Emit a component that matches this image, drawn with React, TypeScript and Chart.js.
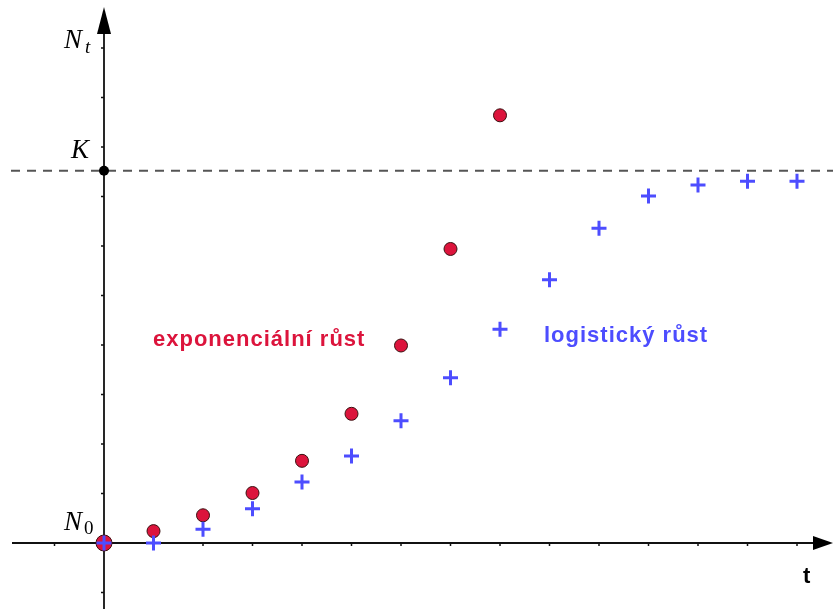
import React, { useEffect, useRef } from "react";
import { Chart, registerables } from "chart.js";

Chart.register(...registerables);

const expT = [0, 1, 2, 3, 4, 5, 6, 7, 8];
const expValues = [0, 0.24, 0.56, 1.01, 1.66, 2.61, 3.99, 5.94, 8.64];
const logT = [0, 1, 2, 3, 4, 5, 6, 7, 8, 9, 10, 11, 12, 13, 14];
const logValues = [0, 0, 0.28, 0.69, 1.23, 1.76, 2.47, 3.34, 4.32, 5.32, 6.36, 7.01, 7.23, 7.31, 7.31];
const K = 7.52;
const xTicks = [-1, 1, 2, 3, 4, 5, 6, 7, 8, 9, 10, 11, 12, 13, 14];
const yTicks = [-1, 1, 2, 3, 4, 5, 6, 7, 8, 9, 10];
const expLabel = "exponenciální růst";
const logLabel = "logistický růst";

const RED = "rgb(220,20,60)";
const BLUE = "rgb(77,77,255)";

export default function App() {
  const ref = useRef<HTMLCanvasElement>(null);
  useEffect(() => {
    const canvas = ref.current!;
    const axesPlugin = {
      id: "axes",
      beforeDatasetsDraw(chart: any) {
        const ctx = chart.ctx;
        const xs = chart.scales.x;
        const ys = chart.scales.y;
        const ox = xs.getPixelForValue(0);
        const oy = ys.getPixelForValue(0);
        const ky = ys.getPixelForValue(K);
        ctx.save();
        // dashed K line
        ctx.strokeStyle = "#555";
        ctx.lineWidth = 2;
        ctx.setLineDash([9, 7]);
        ctx.beginPath();
        ctx.moveTo(11, ky);
        ctx.lineTo(833, ky);
        ctx.stroke();
        ctx.setLineDash([]);
        // axes
        ctx.strokeStyle = "#111";
        ctx.lineWidth = 1.8;
        ctx.beginPath();
        ctx.moveTo(12, oy);
        ctx.lineTo(815, oy);
        ctx.moveTo(ox, 609);
        ctx.lineTo(ox, 30);
        ctx.stroke();
        // ticks
        ctx.lineWidth = 1.5;
        ctx.beginPath();
        xTicks.forEach((v) => {
          const px = xs.getPixelForValue(v);
          ctx.moveTo(px, oy);
          ctx.lineTo(px, oy + 3);
        });
        yTicks.forEach((v) => {
          const py = ys.getPixelForValue(v);
          ctx.moveTo(ox, py);
          ctx.lineTo(ox - 3, py);
        });
        ctx.stroke();
        // arrows
        ctx.fillStyle = "#000";
        ctx.beginPath();
        ctx.moveTo(833, oy);
        ctx.lineTo(813, oy - 7);
        ctx.lineTo(813, oy + 7);
        ctx.closePath();
        ctx.fill();
        ctx.beginPath();
        ctx.moveTo(ox, 7);
        ctx.lineTo(ox - 7, 34);
        ctx.lineTo(ox + 7, 34);
        ctx.closePath();
        ctx.fill();
        // K point
        ctx.beginPath();
        ctx.arc(ox, ky, 5, 0, Math.PI * 2);
        ctx.fill();
        ctx.restore();
      },
      afterDraw(chart: any) {
        const ctx = chart.ctx;
        ctx.save();
        ctx.textBaseline = "alphabetic";
        ctx.textAlign = "left";
        ctx.fillStyle = "#000";
        ctx.font = "italic 27px 'Liberation Serif'";
        ctx.fillText("N", 64, 48);
        ctx.font = "italic 19px 'Liberation Serif'";
        ctx.fillText("t", 85, 53);
        ctx.font = "italic 27px 'Liberation Serif'";
        ctx.fillText("K", 71, 158);
        ctx.fillText("N", 64, 530);
        ctx.font = "19px 'Liberation Serif'";
        ctx.fillText("0", 84, 534);
        ctx.font = "bold 22px 'Liberation Sans'";
        ctx.fillText("t", 803, 583);
        ctx.font = "bold 22px 'Liberation Sans'";
        (ctx as any).letterSpacing = "1px";
        ctx.fillStyle = RED;
        ctx.fillText(expLabel, 153, 346);
        ctx.fillStyle = BLUE;
        ctx.fillText(logLabel, 544, 342);
        ctx.restore();
      },
    };
    const chart = new Chart(canvas, {
      type: "scatter",
      data: {
        datasets: [
          {
            label: "log",
            data: logT.map((t, i) => ({ x: t, y: logValues[i] })),
            pointStyle: "cross",
            pointRadius: 7.5,
            borderColor: BLUE,
            backgroundColor: BLUE,
            borderWidth: 3,
            order: 0,
          },
          {
            label: "exp",
            data: expT.map((t, i) => ({ x: t, y: expValues[i] })),
            pointStyle: "circle",
            pointRadius: (c: any) => (c.dataIndex === 0 ? 8 : 6.5),
            backgroundColor: RED,
            borderColor: "#3a1010",
            borderWidth: 1,
            order: 1,
          },
        ],
      },
      options: {
        animation: false,
        responsive: false,
        devicePixelRatio: 1,
        layout: { padding: 0, autoPadding: false },
        plugins: { legend: { display: false }, tooltip: { enabled: false } },
        scales: {
          x: { type: "linear", display: false, min: -104 / 49.5, max: 729 / 49.5 },
          y: { type: "linear", display: false, min: -66 / 49.5, max: 543 / 49.5 },
        },
      },
      plugins: [axesPlugin],
    });
    return () => chart.destroy();
  }, []);
  return (
    <canvas
      ref={ref}
      width={833}
      height={609}
      style={{ position: "absolute", left: 0, top: 0, width: 833, height: 609, background: "#fff" }}
    />
  );
}
